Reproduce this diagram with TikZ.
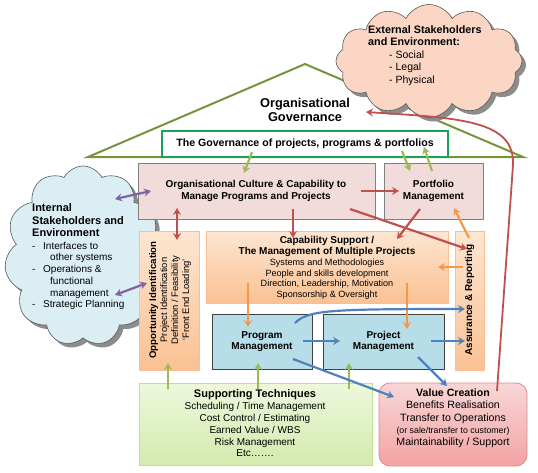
\documentclass[tikz,border=0pt]{standalone}
\usepackage{fontspec}
\setmainfont{Liberation Sans}
\usetikzlibrary{shapes.symbols,shadows,arrows.meta,calc}

\definecolor{olivegreen}{HTML}{77933C}
\definecolor{govgreen}{HTML}{1FA05A}
\definecolor{pinkfill}{HTML}{F2DCDB}
\definecolor{boxline}{HTML}{7F7F7F}
\definecolor{bluefill}{HTML}{B7DEE8}
\definecolor{blueline}{HTML}{404040}
\definecolor{orangetop}{HTML}{FDE6D2}
\definecolor{orangebot}{HTML}{FAC193}
\definecolor{orangeline}{HTML}{F9BE91}
\definecolor{greentop}{HTML}{EEF8DC}
\definecolor{greenbot}{HTML}{D3EAAE}
\definecolor{greenline}{HTML}{C3DC9B}
\definecolor{valuetop}{HTML}{F8D6D6}
\definecolor{valuebot}{HTML}{F3A3A3}
\definecolor{valueline}{HTML}{D98C8C}
\definecolor{intfill}{HTML}{DAEEF3}
\definecolor{extfill}{HTML}{FBD6C4}
\definecolor{cloudline}{HTML}{595959}
\definecolor{redarrow}{HTML}{C0504D}
\definecolor{purplearrow}{HTML}{8064A2}
\definecolor{orangearrow}{HTML}{F79646}
\definecolor{bluearrow}{HTML}{4F81BD}
\definecolor{greenarrow}{HTML}{9BBB59}

\tikzset{
  tipshape/.tip={Stealth[length=7pt,width=8pt,inset=2.5pt]},
  conn/.style={line width=2.2pt, -tipshape},
  dconn/.style={line width=2.2pt, tipshape-tipshape},
  pinkbox/.style={draw=boxline, line width=0.7pt, fill=pinkfill, inner sep=0pt},
  bluebox/.style={draw=blueline, line width=0.7pt, fill=bluefill, inner sep=0pt},
  orangebox/.style={draw=orangeline, line width=0.7pt, top color=orangetop, bottom color=orangebot, inner sep=0pt},
  greenbox/.style={draw=greenline, line width=0.7pt, top color=greentop, bottom color=greenbot, inner sep=0pt},
  valuebox/.style={draw=valueline, line width=0.8pt, top color=valuetop, bottom color=valuebot, rounded corners=11pt, inner sep=0pt},
  cloudshadow/.style={drop shadow={shadow xshift=4pt, shadow yshift=-4pt, fill=black!45, opacity=1}},
  headtext/.style={font=\bfseries\fontsize{10}{11.5}\selectfont, align=center, inner sep=0pt},
  bodytext/.style={align=center, inner sep=0pt},
  intline/.style={anchor=base west, inner sep=0pt, font=\fontsize{10}{11.7}\selectfont},
  intbold/.style={anchor=base west, inner sep=0pt, font=\bfseries\fontsize{11}{12.4}\selectfont},
}

\begin{document}
\begin{tikzpicture}[x=1pt,y=-1pt]
\useasboundingbox[fill=white] (0,0) rectangle (538,472);

% internal cloud
\node[cloud, cloud puffs=11, cloud puff arc=125, aspect=0.9, draw=cloudline, line width=0.6pt,
      fill=intfill, minimum width=157pt, minimum height=180pt, cloudshadow] (intcloud) at (83,256) {};

% roof
\draw[olivegreen, line width=2pt, line join=miter] (88,157) -- (305,64) -- (523,157) -- cycle;

% external cloud
\node[cloud, cloud puffs=12, cloud puff arc=125, aspect=1.65, draw=cloudline, line width=0.6pt,
      fill=extfill, minimum width=186pt, minimum height=113pt, cloudshadow] (extcloud) at (429,61) {};

\node[align=left, anchor=north west, inner sep=0pt, font=\fontsize{10.5}{12.5}\selectfont] (exttext) at (368,25)
  {{\bfseries\fontsize{10.8}{12.5}\selectfont External Stakeholders}\\
   {\bfseries\fontsize{10.8}{12.5}\selectfont and Environment:}\\
   \hspace{21pt}- Social\\
   \hspace{21pt}- Legal\\
   \hspace{21pt}- Physical};

\node[align=center, inner sep=0pt, font=\bfseries\fontsize{12.8}{14}\selectfont] (orggov) at (305,110)
  {Organisational\\Governance};

% governance box
\node[draw=govgreen, line width=1.2pt, fill=white, minimum width=286pt, minimum height=26pt, inner sep=0pt,
      font=\bfseries\fontsize{10.6}{12}\selectfont] (gov) at (305,144)
  {The Governance of projects, programs \& portfolios};

% internal cloud text, one line each on its baseline
\node[intbold] (int1) at (32,211) {Internal};
\node[intbold] (int2) at (32,224) {Stakeholders and};
\node[intbold] (int3) at (32,236) {Environment};
\node[intline] (int4) at (32,249) {\makebox[11pt][l]{-}Interfaces to};
\node[intline] (int5) at (50,260) {other systems};
\node[intline] (int6) at (32,272) {\makebox[11pt][l]{-}Operations \&};
\node[intline] (int7) at (50,284) {functional};
\node[intline] (int8) at (50,296) {management};
\node[intline] (int9) at (32,307) {\makebox[11pt][l]{-}Strategic Planning};

% culture and portfolio
\node[pinkbox, minimum width=237pt, minimum height=56pt] (culture) at (256.5,191) {};
\node[headtext] (culturetext) at (256,191) {Organisational Culture \& Capability to\\Manage Programs and Projects};
\node[pinkbox, minimum width=99pt, minimum height=56pt] (portfolio) at (433.5,191) {};
\node[headtext] (portfoliotext) at (433.5,191) {Portfolio\\Management};

% opportunity
\node[orangebox, minimum width=60pt, minimum height=139pt] (opp) at (169,300.5) {};
\node[rotate=90, align=center, inner sep=0pt, font=\fontsize{9.4}{11}\selectfont] (opptext) at (170,300)
  {{\bfseries\fontsize{9.6}{11}\selectfont Opportunity Identification}\\Project Identification\\Definition / Feasibility\\`Front End Loading'};

% capability
\node[orangebox, minimum width=242pt, minimum height=72pt] (capab) at (327,267) {};
\node[bodytext, font=\fontsize{9.1}{10.8}\selectfont] (capabtext) at (327,268)
  {{\bfseries\fontsize{10}{11.5}\selectfont Capability Support /}\\
   {\bfseries\fontsize{10}{11.5}\selectfont The Management of Multiple Projects}\\
   Systems and Methodologies\\
   People and skills development\\
   Direction, Leadership, Motivation\\
   Sponsorship \& Oversight};

% assurance
\node[orangebox, minimum width=29pt, minimum height=139pt] (assur) at (469.5,300.5) {};
\node[rotate=90, inner sep=0pt, font=\bfseries\fontsize{10}{11}\selectfont] (assurtext) at (469.5,300) {Assurance \& Reporting};

% program / project
\node[bluebox, minimum width=100pt, minimum height=55pt] (program) at (262,341.5) {};
\node[headtext] (programtext) at (262,341.5) {Program\\Management};
\node[bluebox, minimum width=121pt, minimum height=55pt] (project) at (383.5,341.5) {};
\node[headtext] (projecttext) at (383.5,341.5) {Project\\Management};

% supporting techniques
\node[greenbox, minimum width=233pt, minimum height=82pt] (support) at (255.5,424) {};
\node[bodytext, font=\fontsize{10}{11.8}\selectfont] (supporttext) at (255,423.5)
  {{\bfseries\fontsize{11}{12}\selectfont Supporting Techniques}\\
   Scheduling / Time Management\\
   Cost Control / Estimating\\
   Earned Value / WBS\\
   Risk Management\\
   Etc…….};

% value creation
\node[valuebox, minimum width=148pt, minimum height=83pt] (value) at (453,424.5) {};
\node[bodytext, font=\fontsize{10.6}{12.3}\selectfont] (valuetext) at (453,418.5)
  {{\bfseries Value Creation}\\
   Benefits Realisation\\
   Transfer to Operations\\
   {\fontsize{8.8}{11}\selectfont (or sale/transfer to customer)}\\
   Maintainability / Support};

% ---- connector end points ----
\coordinate (g1a) at (252,152); \coordinate (g1b) at (244,173);
\coordinate (g2a) at (402,151); \coordinate (g2b) at (410,171);
\coordinate (g3a) at (432,171); \coordinate (g3b) at (424,147);
\coordinate (g4a) at (168,389); \coordinate (g4b) at (168,363);
\coordinate (g5a) at (258,389); \coordinate (g5b) at (258,363);
\coordinate (g6a) at (349,389); \coordinate (g6b) at (349,363);
\coordinate (p1a) at (115,199); \coordinate (p1b) at (151,191);
\coordinate (p2a) at (115,295); \coordinate (p2b) at (147,283);
\coordinate (r1a) at (177,208); \coordinate (r1b) at (177,240);
\coordinate (r2a) at (293,209); \coordinate (r2b) at (293,238);
\coordinate (r3a) at (361,191); \coordinate (r3b) at (399,191);
\coordinate (r4a) at (420,209); \coordinate (r4b) at (397,239);
\coordinate (r5a) at (350,209); \coordinate (r5b) at (467,249);
\coordinate (r6a) at (497,391); \coordinate (r6m) at (513,165); \coordinate (r6b) at (366,112);
\coordinate (o1a) at (469,238); \coordinate (o1b) at (454,208);
\coordinate (o2a) at (463,267); \coordinate (o2b) at (438,267);
\coordinate (o3a) at (248,283); \coordinate (o3b) at (248,327);
\coordinate (o4a) at (407,283); \coordinate (o4b) at (407,329);
\coordinate (b1a) at (303,341); \coordinate (b1b) at (340,341);
\coordinate (b2a) at (295,323); \coordinate (b2b) at (465,309);
\coordinate (b3a) at (431,341); \coordinate (b3b) at (465,341);
\coordinate (b4a) at (293,359); \coordinate (b4b) at (394,397);
\coordinate (b5a) at (418,357); \coordinate (b5b) at (447,386);

% green
\foreach \n in {g1,g2,g3,g4,g5,g6} \draw[conn, greenarrow] (\n a) -- (\n b);
% purple
\draw[dconn, purplearrow] (p1a) -- (p1b);
\draw[dconn, purplearrow] (p2a) -- (p2b);
% red
\draw[dconn, redarrow] (r1a) -- (r1b);
\foreach \n in {r2,r3,r4,r5} \draw[conn, redarrow] (\n a) -- (\n b);
\draw[conn, redarrow, line width=1.8pt] (r6a) -- (r6m) .. controls (515,120) and (460,118) .. (r6b);
% orange
\foreach \n in {o1,o2,o3,o4} \draw[conn, orangearrow] (\n a) -- (\n b);
% blue
\draw[conn, bluearrow] (b1a) -- (b1b);
\draw[conn, bluearrow] (b2a) .. controls (308,310) and (330,309) .. (b2b);
\draw[conn, bluearrow] (b3a) -- (b3b);
\draw[conn, bluearrow] (b4a) -- (b4b);
\draw[conn, bluearrow] (b5a) -- (b5b);
\end{tikzpicture}
\end{document}
